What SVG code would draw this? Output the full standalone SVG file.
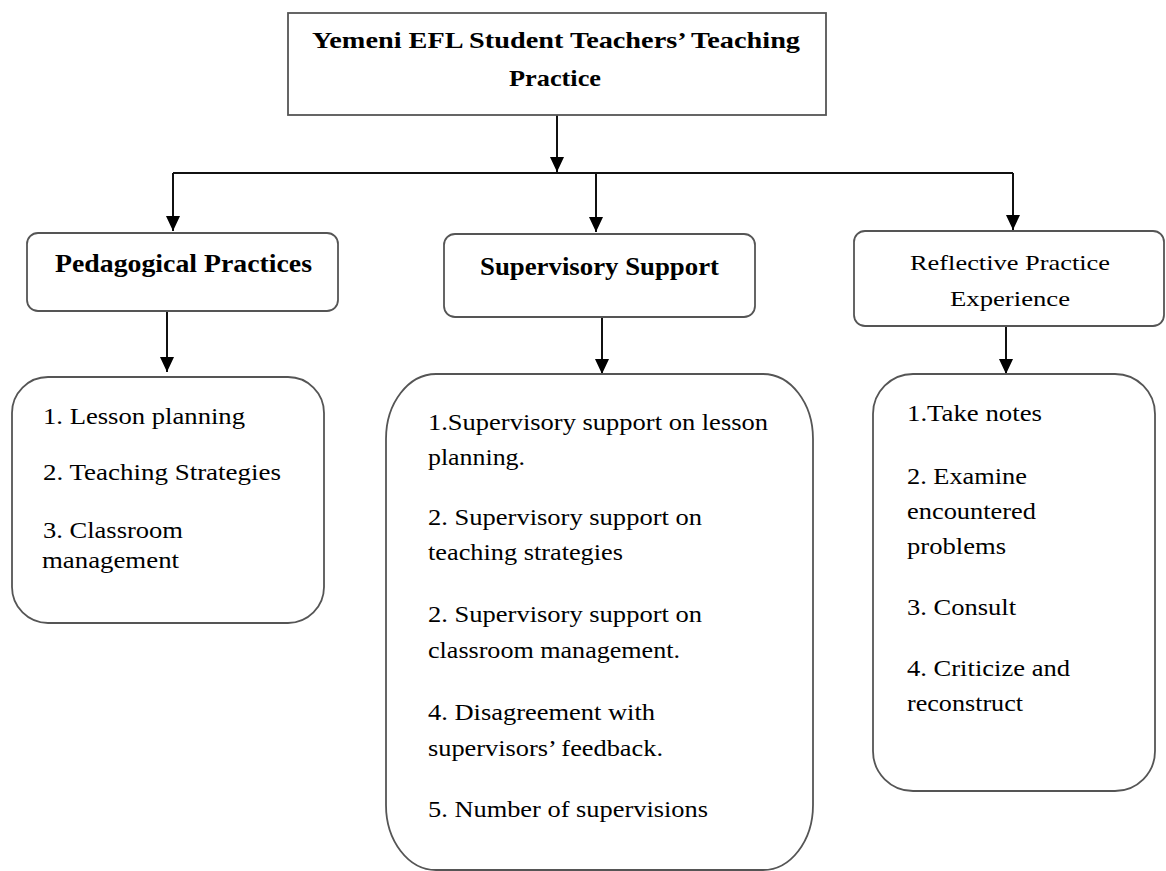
<svg xmlns="http://www.w3.org/2000/svg" width="1166" height="871" viewBox="0 0 1166 871">
<style>
.box{fill:#fff;stroke:#555;stroke-width:1.8}
.t{font-family:"Liberation Serif","Times New Roman",serif;fill:#000}
.b{font-weight:bold}
.c{stroke:#111;stroke-width:2;fill:none}
</style>
<defs>
<marker id="ah" markerUnits="userSpaceOnUse" markerWidth="15" markerHeight="14" viewBox="0 0 15 14" refX="15" refY="7" orient="auto">
<path d="M0,0 L15,7 L0,14 z" fill="#000"/>
</marker>
</defs>
<g id="connectors">
<path class="c" d="M557,115 V172" marker-end="url(#ah)"/>
<path class="c" d="M173,173 H1013"/>
<path class="c" d="M173,173 V231" marker-end="url(#ah)"/>
<path class="c" d="M596,173 V232" marker-end="url(#ah)"/>
<path class="c" d="M1013,173 V230" marker-end="url(#ah)"/>
<path class="c" d="M167,311 V372" marker-end="url(#ah)"/>
<path class="c" d="M602,317 V374" marker-end="url(#ah)"/>
<path class="c" d="M1006,326 V374" marker-end="url(#ah)"/>
</g>
<g id="root">
<rect class="box" x="288" y="13" width="538" height="102"/>
<text class="t b" font-size="23" x="312" y="48" textLength="488" lengthAdjust="spacingAndGlyphs">Yemeni EFL Student Teachers’ Teaching</text>
<text class="t b" font-size="23" x="509" y="86" textLength="92" lengthAdjust="spacingAndGlyphs">Practice</text>
</g>
<g id="pedagogical">
<rect class="box" x="27" y="233" width="311" height="78" rx="11"/>
<text class="t b" font-size="25" x="55" y="272" textLength="257" lengthAdjust="spacingAndGlyphs">Pedagogical Practices</text>
</g>
<g id="supervisory">
<rect class="box" x="444" y="234" width="311" height="83" rx="11"/>
<text class="t b" font-size="25" x="480" y="275" textLength="239" lengthAdjust="spacingAndGlyphs">Supervisory Support</text>
</g>
<g id="reflective">
<rect class="box" x="854" y="231" width="310" height="95" rx="11"/>
<text class="t" font-size="22" x="910" y="270" textLength="200" lengthAdjust="spacingAndGlyphs">Reflective Practice</text>
<text class="t" font-size="22" x="950" y="306" textLength="120" lengthAdjust="spacingAndGlyphs">Experience</text>
</g>
<g id="pedagogical-list">
<rect class="box" x="12" y="377" width="312" height="246" rx="36"/>
<text class="t" font-size="24" x="43" y="424" textLength="202" lengthAdjust="spacingAndGlyphs">1. Lesson planning</text>
<text class="t" font-size="24" x="43" y="480" textLength="238" lengthAdjust="spacingAndGlyphs">2. Teaching Strategies</text>
<text class="t" font-size="24" x="43" y="538" textLength="140" lengthAdjust="spacingAndGlyphs">3. Classroom</text>
<text class="t" font-size="24" x="42" y="568" textLength="137" lengthAdjust="spacingAndGlyphs">management</text>
</g>
<g id="supervisory-list">
<rect class="box" x="386" y="374" width="427" height="496" rx="50" ry="65"/>
<text class="t" font-size="24" x="428" y="430" textLength="340" lengthAdjust="spacingAndGlyphs">1.Supervisory support on lesson</text>
<text class="t" font-size="24" x="428" y="465" textLength="97" lengthAdjust="spacingAndGlyphs">planning.</text>
<text class="t" font-size="24" x="428" y="525" textLength="274" lengthAdjust="spacingAndGlyphs">2. Supervisory support on</text>
<text class="t" font-size="24" x="428" y="560" textLength="195" lengthAdjust="spacingAndGlyphs">teaching strategies</text>
<text class="t" font-size="24" x="428" y="622" textLength="274" lengthAdjust="spacingAndGlyphs">2. Supervisory support on</text>
<text class="t" font-size="24" x="428" y="658" textLength="252" lengthAdjust="spacingAndGlyphs">classroom management.</text>
<text class="t" font-size="24" x="428" y="720" textLength="227" lengthAdjust="spacingAndGlyphs">4. Disagreement with</text>
<text class="t" font-size="24" x="428" y="756" textLength="235" lengthAdjust="spacingAndGlyphs">supervisors’ feedback.</text>
<text class="t" font-size="24" x="428" y="817" textLength="280" lengthAdjust="spacingAndGlyphs">5. Number of supervisions</text>
</g>
<g id="reflective-list">
<rect class="box" x="873" y="374" width="282" height="417" rx="40"/>
<text class="t" font-size="24" x="907" y="421" textLength="135" lengthAdjust="spacingAndGlyphs">1.Take notes</text>
<text class="t" font-size="24" x="907" y="484" textLength="120" lengthAdjust="spacingAndGlyphs">2. Examine</text>
<text class="t" font-size="24" x="907" y="519" textLength="129" lengthAdjust="spacingAndGlyphs">encountered</text>
<text class="t" font-size="24" x="907" y="554" textLength="99" lengthAdjust="spacingAndGlyphs">problems</text>
<text class="t" font-size="24" x="907" y="615" textLength="109" lengthAdjust="spacingAndGlyphs">3. Consult</text>
<text class="t" font-size="24" x="907" y="676" textLength="163" lengthAdjust="spacingAndGlyphs">4. Criticize and</text>
<text class="t" font-size="24" x="907" y="711" textLength="116" lengthAdjust="spacingAndGlyphs">reconstruct</text>
</g>
</svg>
